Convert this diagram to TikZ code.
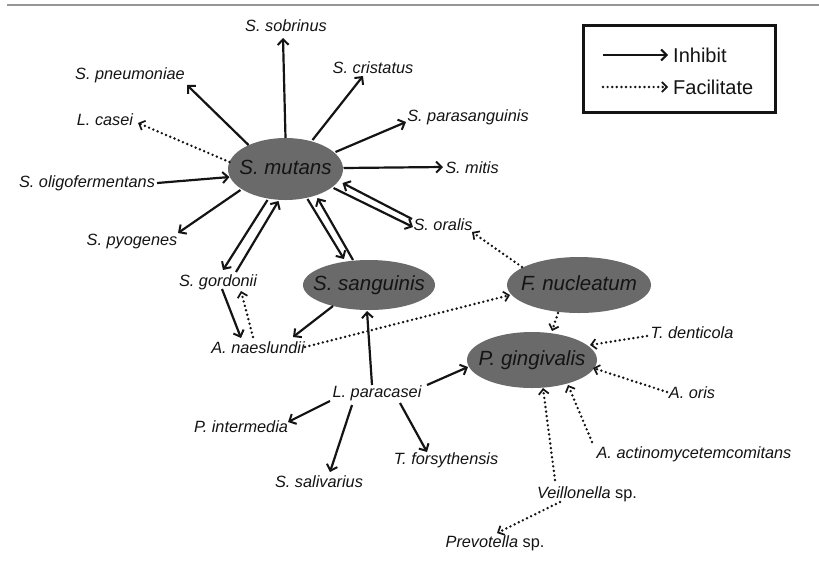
\documentclass[tikz,border=0pt]{standalone}
\usepackage{fontspec}
\setmainfont{Liberation Sans}
\usetikzlibrary{shapes.geometric,arrows.meta,calc}
\definecolor{ellgray}{RGB}{106,106,106}
\definecolor{rulegray}{RGB}{150,150,150}
\definecolor{inkc}{RGB}{20,20,20}
\begin{document}
\begin{tikzpicture}[x=1pt,y=-1pt,
 lbl/.style={inner sep=0pt, text=inkc, font=\fontsize{16.3}{19}\selectfont\itshape, text height=11.7pt, text depth=3.4pt},
 ell/.style={ellipse, fill=ellgray, inner sep=0pt, text=inkc, font=\fontsize{20.5}{24}\selectfont\itshape, text height=14.7pt, text depth=4.3pt},
 legtxt/.style={inner sep=0pt, anchor=west, text=inkc, font=\fontsize{20}{24}\selectfont, text height=14.4pt, text depth=0pt},
 inh/.style={draw=inkc, line width=2.2pt, -{Straight Barb[length=5.5pt,width=11pt,line width=2pt]}},
 fac/.style={draw=inkc, line width=2.7pt, line cap=round, dash pattern=on 0pt off 4.6pt, -{Straight Barb[length=5pt,width=10pt,line width=1.7pt]}},
]
\useasboundingbox (0,0) rectangle (819,563);
\fill[white] (0,0) rectangle (819,563);
% top rule
\coordinate (ruleL) at (7,5);
\coordinate (ruleR) at (819,5);
\draw[rulegray, line width=1.5pt] (ruleL) -- (ruleR);

% ellipses
\node[ell, minimum width=115pt, minimum height=62pt] (mutans) at (285.5,169) {\makebox[0pt]{S. mutans}};
\node[ell, minimum width=132pt, minimum height=50pt] (sanguinis) at (369,285) {\makebox[0pt]{S. sanguinis}};
\node[ell, minimum width=144pt, minimum height=56pt] (fnuc) at (579,285) {\makebox[0pt]{F. nucleatum}};
\node[ell, minimum width=130pt, minimum height=56pt] (pging) at (532,360) {\makebox[0pt]{P. gingivalis}};

% labels
\node[lbl] (sobrinus) at (286,27) {S. sobrinus};
\node[lbl] (pneum) at (130,75) {S. pneumoniae};
\node[lbl] (cristatus) at (373,69) {S. cristatus};
\node[lbl] (lcasei) at (105,121) {L. casei};
\node[lbl] (parasang) at (468,117) {S. parasanguinis};
\node[lbl] (mitis) at (472,169) {S. mitis};
\node[lbl] (oralis) at (443,226) {S. oralis};
\node[lbl] (oligo) at (87,183) {S. oligofermentans};
\node[lbl] (pyog) at (132,241) {S. pyogenes};
\node[lbl] (gordonii) at (218,282) {S. gordonii};
\node[lbl] (naesl) at (258,349) {A. naeslundii};
\node[lbl] (lpara) at (377,393) {L. paracasei};
\node[lbl] (pinter) at (241,428) {P. intermedia};
\node[lbl] (saliv) at (319,483) {S. salivarius};
\node[lbl] (tfors) at (446,460) {T. forsythensis};
\node[lbl] (prevo) at (495,543) {Prevotella \upshape sp.};
\node[lbl] (veill) at (587,494) {Veillonella \upshape sp.};
\node[lbl] (aact) at (694,454) {A. actinomycetemcomitans};
\node[lbl] (aoris) at (692,394) {A. oris};
\node[lbl] (tdent) at (692,334) {T. denticola};

% inhibit edges
\draw[inh] ($(mutans)+(0,-31)$) -- ($(sobrinus)+(-3,11)$);
\draw[inh] ($(mutans)+(-37,-24)$) -- ($(pneum)+(57,10)$);
\draw[inh] ($(mutans)+(27,-29)$) -- ($(cristatus)+(-10,7)$);
\draw[inh] ($(mutans)+(50,-17)$) -- ($(parasang)+(-62,5)$);
\draw[inh] ($(mutans)+(58,-1)$) -- ($(mitis)+(-29,-2)$);
\draw[inh] ($(mutans)+(48,19)$) -- ($(oralis)+(-30,1)$);
\draw[inh] ($(oralis)+(-31,-7)$) -- ($(mutans)+(57,14)$);
\draw[inh] ($(mutans)+(22,30)$) -- ($(sanguinis)+(-25,-26)$);
\draw[inh] ($(sanguinis)+(-16,-25)$) -- ($(mutans)+(32,29)$);
\draw[inh] ($(oligo)+(70,0)$) -- ($(mutans)+(-56,8)$);
\draw[inh] ($(mutans)+(-45,21)$) -- ($(pyog)+(46,-8)$);
\draw[inh] ($(mutans)+(-18,31)$) -- ($(gordonii)+(5,-12)$);
\draw[inh] ($(gordonii)+(18,-10)$) -- ($(mutans)+(-7,32)$);
\draw[inh] ($(gordonii)+(4,7)$) -- ($(naesl)+(-17,-11)$);
\draw[inh] ($(sanguinis)+(-36,21)$) -- ($(naesl)+(35,-12)$);
\draw[inh] ($(lpara)+(-5,-8)$) -- ($(sanguinis)+(-2,26)$);
\draw[inh] ($(lpara)+(50,-8)$) -- ($(pging)+(-64,7)$);
\draw[inh] ($(lpara)+(-47,8)$) -- ($(pinter)+(47,-6)$);
\draw[inh] ($(lpara)+(-25,12)$) -- ($(saliv)+(11,-11)$);
\draw[inh] ($(lpara)+(23,10)$) -- ($(tfors)+(-19,-8)$);

% facilitate edges
\draw[fac] ($(naesl)+(-5,-12)$) -- ($(gordonii)+(23,9)$);
\draw[fac] ($(mutans)+(-56,-7)$) -- ($(lcasei)+(33,2)$);
\draw[fac] ($(naesl)+(47,-2)$) -- ($(fnuc)+(-69,10)$);
\draw[fac] ($(fnuc)+(-57,-18)$) -- ($(oralis)+(29,6)$);
\draw[fac] ($(fnuc)+(-21,28)$) -- ($(pging)+(20,-29)$);
\draw[fac] ($(tdent)+(-45,2)$) -- ($(pging)+(58,-15)$);
\draw[fac] ($(aoris)+(-25,-2)$) -- ($(pging)+(61,8)$);
\draw[fac] ($(aact)+(-102,-12)$) -- ($(pging)+(36,25)$);
\draw[fac] ($(veill)+(-32,-14)$) -- ($(pging)+(11,28)$);
\draw[fac] ($(veill)+(-27,8)$) -- ($(prevo)+(2,-10)$);

% legend
\node[draw=inkc, line width=3pt, minimum width=192pt, minimum height=87pt, inner sep=0pt] (legend) at (679.5,69) {};
\node[legtxt] (inhtxt) at (673,55) {Inhibit};
\node[legtxt] (factxt) at (673,87) {Facilitate};
\coordinate (inhstart) at (603,55);
\coordinate (facstart) at (603,87);
\draw[inh] (inhstart) -- ($(inhtxt.west)+(-5,0)$);
\draw[fac] (facstart) -- ($(factxt.west)+(-5,0)$);
\end{tikzpicture}
\end{document}
